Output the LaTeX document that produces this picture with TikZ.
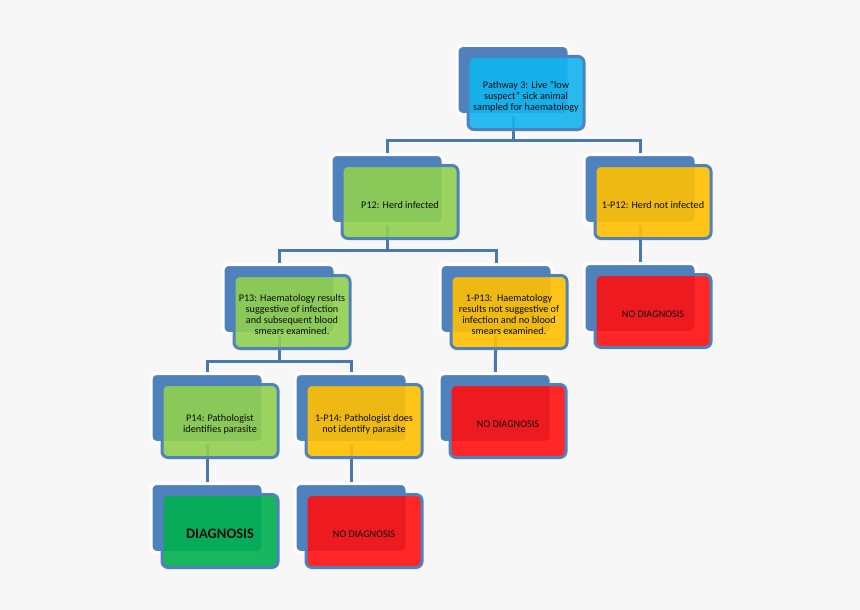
\documentclass[tikz,border=0pt]{standalone}
\usepackage{fontspec}
\setmainfont{Carlito}
\usepackage{tikz}
\usetikzlibrary{positioning}
\definecolor{boxblue}{HTML}{4F81BD}
\definecolor{linkblue}{HTML}{4A78B2}
\definecolor{pagegrey}{HTML}{F7F7F7}
\definecolor{rootcyan}{HTML}{12B4EF}
\definecolor{herdgreen}{HTML}{92D050}
\definecolor{notgold}{HTML}{FFC000}
\definecolor{nodxred}{HTML}{FF1010}
\definecolor{dxgreen}{HTML}{00B050}
\pgfdeclarelayer{paper}
\pgfdeclarelayer{links}
\pgfsetlayers{paper,links,main}
% text set a little below the box centre
\newcommand{\boxtext}[1]{\raisebox{-4pt}[\height][\depth]{\begin{tabular}{@{}c@{}}#1\end{tabular}}}

\begin{document}
\begin{tikzpicture}[
		x=1pt, y=-1pt,
		font=\fontsize{10.2}{11}\selectfont,
		backbox/.style={
				rectangle,
				rounded corners=6pt,
				minimum width=112pt,
				minimum height=69pt,
				fill=boxblue,
				draw=white,
				line width=3pt
			},
		frontbox/.style={
				rectangle,
				rounded corners=6pt,
				minimum width=116pt,
				minimum height=73pt,
				draw=boxblue,
				line width=3pt,
				fill opacity=0.9,
				text opacity=1,
				text=black!95,
				inner sep=2pt
			},
		link/.style={draw=linkblue, line width=3pt}
	]
	\renewcommand{\arraystretch}{1}
	\begin{pgfonlayer}{paper}
		\fill[pagegrey] (0,0) rectangle (860,610);
	\end{pgfonlayer}

	% back plates
	\node[backbox] (rootb) at (513,80) {};
	\node[backbox] (p12b) at (387,189) {};
	\node[backbox] (np12b) at (640,189) {};
	\node[backbox] (p13b) at (279,299) {};
	\node[backbox] (np13b) at (496,299) {};
	\node[backbox] (nd1b) at (640,298) {};
	\node[backbox] (p14b) at (207,408) {};
	\node[backbox] (np14b) at (351,408) {};
	\node[backbox] (nd2b) at (495,408) {};
	\node[backbox] (dxb) at (207,518) {};
	\node[backbox] (nd3b) at (351,518) {};

	% front boxes
	\node[frontbox, fill=rootcyan] (root) at (526,93)
		{\boxtext{Pathway 3: Live "low\\suspect" sick animal\\sampled for haematology}};
	\node[frontbox, fill=herdgreen] (p12) at (400,202) {\boxtext{P12: Herd infected}};
	\node[frontbox, fill=notgold] (np12) at (653,202) {\boxtext{1-P12: Herd not infected}};
	\node[frontbox, fill=herdgreen] (p13) at (292,312)
		{\boxtext{P13: Haematology results\\suggestive of infection\\and subsequent blood\\smears examined.}};
	\node[frontbox, fill=notgold] (np13) at (509,312)
		{\boxtext{1-P13:\ \ Haematology\\results not suggestive of\\infection and no blood\\smears examined.}};
	\node[frontbox, fill=nodxred] (nd1) at (653,311) {\boxtext{NO DIAGNOSIS}};
	\node[frontbox, fill=herdgreen] (p14) at (220,421) {\boxtext{P14: Pathologist\\identifies parasite}};
	\node[frontbox, fill=notgold] (np14) at (364,421) {\boxtext{1-P14: Pathologist does\\not identify parasite}};
	\node[frontbox, fill=nodxred] (nd2) at (508,421) {\boxtext{NO DIAGNOSIS}};
	\node[frontbox, fill=dxgreen] (dx) at (220,531) {\boxtext{\fontsize{14.5}{16}\selectfont\bfseries DIAGNOSIS}};
	\node[frontbox, fill=nodxred] (nd3) at (364,531) {\boxtext{NO DIAGNOSIS}};

	% tree links, behind the boxes
	\begin{pgfonlayer}{links}
		\draw[link] (rootb.center) -- ++(0,60) -| (p12b.center);
		\draw[link] (rootb.center) -- ++(0,60) -| (np12b.center);
		\draw[link] (p12b.center) -- ++(0,61) -| (p13b.center);
		\draw[link] (p12b.center) -- ++(0,61) -| (np13b.center);
		\draw[link] (p13b.center) -- ++(0,62) -| (p14b.center);
		\draw[link] (p13b.center) -- ++(0,62) -| (np14b.center);
		\draw[link] (np12b.center) -- (nd1b.center);
		\draw[link] (np13b.center) -- (nd2b.center);
		\draw[link] (p14b.center) -- (dxb.center);
		\draw[link] (np14b.center) -- (nd3b.center);
	\end{pgfonlayer}
\end{tikzpicture}
\end{document}
